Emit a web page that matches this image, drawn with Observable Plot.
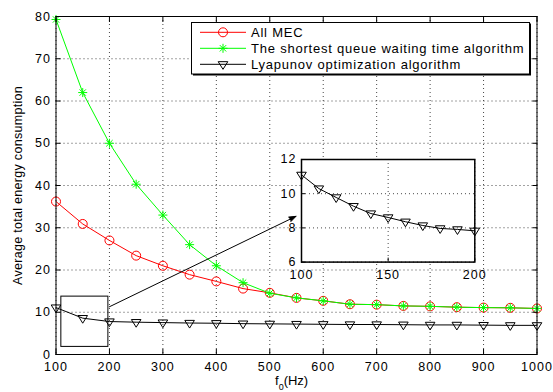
<!DOCTYPE html>
<html><head><meta charset="utf-8">
<script src="https://cdn.jsdelivr.net/npm/d3@7"></script>
<script src="https://cdn.jsdelivr.net/npm/@observablehq/plot@0.6"></script>
<style>
html,body{margin:0;padding:0;background:#fff;}
#wrap{position:relative;width:553px;height:392px;font-family:"Liberation Sans",Arial,Helvetica,sans-serif;}
#wrap > svg, #wrap > figure{position:absolute;margin:0;}
svg.chartsvg{font-family:"Liberation Sans",Arial,Helvetica,sans-serif !important;background:transparent !important;}
svg.chartsvg [aria-label$="tick label"]{font-size:12.5px !important;letter-spacing:1px;}
svg.chartsvg [aria-label="y-axis label"]{font-size:12.5px !important;letter-spacing:0.3px;}
</style></head><body><div id="wrap"></div>
<script>
// ---- data ----
const fValues = [100,150,200,250,300,350,400,450,500,550,600,650,700,750,800,850,900,950,1000];
const allMEC = [36.2,30.9,27.0,23.4,21.0,18.9,17.3,15.6,14.6,13.4,12.7,11.9,11.8,11.5,11.4,11.2,11.1,11.05,10.9];
const shortestQueue = [79.3,62.0,50.0,40.3,33.0,26.0,21.0,17.0,14.5,13.4,12.7,11.9,11.8,11.5,11.4,11.2,11.1,11.05,10.9];
const lyapunov = [11.1,8.6,7.8,7.65,7.55,7.45,7.4,7.3,7.25,7.2,7.15,7.1,7.1,7.05,7.0,7.0,6.95,6.9,6.9];
const insetF = [100,110,120,130,140,150,160,170,180,190,200];
const insetLyapunov = [11.1,10.3,9.78,9.27,8.84,8.61,8.36,8.14,7.97,7.91,7.83];
const seriesNames = ["All MEC","The shortest queue waiting time algorithm","Lyapunov optimization algorithm"];
const seriesColors = ["#ff0000","#00ff00","#000000"];
const xTicks = [100,200,300,400,500,600,700,800,900,1000];
const yTicks = [0,10,20,30,40,50,60,70,80];
const insetXTicks = [100,150,200];
const insetYTicks = [6,8,10,12];
const zoomBoxX = [110,198];
const zoomBoxY = [1.8,13.7];
const arrowX = [200,549];
const arrowY = [11.3,32.7];
const xLabel = "f";
const xLabelSub = "0";
const xLabelUnit = "(Hz)";
const yLabel = "Average total energy consumption";

// ---- symbols ----
const asterisk8 = {draw(ctx, size){const r=Math.sqrt(size/Math.PI), d=r*Math.SQRT1_2;
  ctx.moveTo(-r,0);ctx.lineTo(r,0);ctx.moveTo(0,-r);ctx.lineTo(0,r);
  ctx.moveTo(-d,-d);ctx.lineTo(d,d);ctx.moveTo(-d,d);ctx.lineTo(d,-d);}};
const triDown = {draw(ctx, size){const r=Math.sqrt(size/Math.PI);
  ctx.moveTo(-r,-r*0.55);ctx.lineTo(r,-r*0.55);ctx.lineTo(0,r*1.05);ctx.closePath();}};
const symbols = [d3.symbolCircle, asterisk8, triDown];
const radii = [4.5, 4.5, 4.8];

const rows = (ys) => fValues.map((f,i)=>({f, v: ys[i]}));
const seriesData = [allMEC, shortestQueue, lyapunov].map(rows);
const insetData = insetF.map((f,i)=>({f, v: insetLyapunov[i]}));
const font = '"Liberation Sans",Arial,Helvetica,sans-serif';
const grid = {stroke:"#333", strokeOpacity:0.9, strokeDasharray:"1,3", strokeWidth:1};
const fmt = d => String(d);

const seriesMarks = seriesData.flatMap((data,i)=>[
  Plot.line(data,{x:"f",y:"v",stroke:seriesColors[i],strokeWidth:1}),
  Plot.dot(data,{x:"f",y:"v",stroke:seriesColors[i],fill:"none",symbol:symbols[i],r:radii[i],strokeWidth:1})
]);

const main = Plot.plot({
  className:"chartsvg",
  width:553, height:392, marginLeft:55.5, marginRight:16.5, marginTop:16, marginBottom:38,
  x:{domain:[100,1000]}, y:{domain:[0,80]},
  style:{fontFamily:font, fontSize:"12.5px", background:"transparent", color:"#000"},
  marks:[
    Plot.gridX(xTicks, grid),
    Plot.gridY(yTicks, grid),
    ...seriesMarks,
    Plot.rect([0],{x1:()=>zoomBoxX[0],x2:()=>zoomBoxX[1],y1:()=>zoomBoxY[0],y2:()=>zoomBoxY[1],stroke:"#000",fill:"none",strokeWidth:1}),
    Plot.arrow([0],{x1:()=>arrowX[0],y1:()=>arrowY[0],x2:()=>arrowX[1],y2:()=>arrowY[1],stroke:"#000",fill:"#000",strokeWidth:1,headLength:11,headAngle:40}),
    Plot.frame({stroke:"#000",strokeWidth:1}),
    Plot.axisX(xTicks,{anchor:"bottom",tickSize:-5,tickPadding:12.8,tickFormat:fmt,label:null}),
    Plot.axisX(xTicks,{anchor:"top",tickSize:-5,tickFormat:()=>"",label:null}),
    Plot.axisY(yTicks,{anchor:"left",tickSize:-5,tickPadding:10,tickFormat:fmt,label:yLabel,labelAnchor:"center",labelArrow:"none",labelOffset:43}),
    Plot.axisY(yTicks,{anchor:"right",tickSize:-5,tickFormat:()=>"",label:null})
  ]
});
main.style.left="0px"; main.style.top="0px";

const inset = Plot.plot({
  className:"chartsvg",
  width:208.3, height:129.6, marginLeft:30, marginRight:5, marginTop:5, marginBottom:22,
  x:{domain:[100,200]}, y:{domain:[6,12]},
  style:{fontFamily:font, fontSize:"12.5px", background:"transparent", color:"#000", overflow:"visible"},
  marks:[
    Plot.frame({fill:"#fff"}),
    Plot.gridX(insetXTicks, grid),
    Plot.gridY(insetYTicks, grid),
    Plot.line(insetData,{x:"f",y:"v",stroke:"#000",strokeWidth:1}),
    Plot.dot(insetData,{x:"f",y:"v",stroke:"#000",fill:"none",symbol:triDown,r:4.8,strokeWidth:1}),
    Plot.frame({stroke:"#000",strokeWidth:1.5}),
    Plot.axisX(insetXTicks,{anchor:"bottom",tickSize:-4,tickPadding:11.7,tickFormat:fmt,label:null}),
    Plot.axisY(insetYTicks,{anchor:"left",tickSize:-4,tickPadding:9,tickFormat:fmt,label:null})
  ]
});
inset.style.left="271px"; inset.style.top="153.7px";

const wrap = document.getElementById("wrap");
wrap.appendChild(main);
wrap.appendChild(inset);

// ---- legend and x label overlay ----
const ov = d3.create("svg").attr("width",553).attr("height",392)
  .style("left","0px").style("top","0px").style("overflow","visible")
  .attr("font-family",font);
ov.append("rect").attr("x",193).attr("y",23.5).attr("width",338).attr("height",52).attr("fill","#000");
ov.append("rect").attr("x",191.5).attr("y",22.5).attr("width",338).attr("height",51.5).attr("fill","#fff").attr("stroke","#000").attr("stroke-width",1);
const legendY = [32.3,48.3,64.3];
seriesNames.forEach((name,i)=>{
  const g = ov.append("g");
  g.append("line").attr("x1",200).attr("x2",246).attr("y1",legendY[i]).attr("y2",legendY[i]).attr("stroke",seriesColors[i]);
  g.append("path").attr("transform",`translate(223,${legendY[i]})`)
    .attr("d",d3.symbol(symbols[i], Math.PI*radii[i]*radii[i])())
    .attr("fill","none").attr("stroke",seriesColors[i]);
  g.append("text").attr("x",251).attr("y",legendY[i]+4.6).attr("font-size",13).attr("letter-spacing","0.78px").text(name);
});
const xl = ov.append("text").attr("x",275).attr("y",385).attr("font-size",13);
xl.append("tspan").text(xLabel);
xl.append("tspan").attr("dy",5).attr("font-size",9).text(xLabelSub);
xl.append("tspan").attr("dy",-5).text(xLabelUnit);
wrap.appendChild(ov.node());
</script></body></html>
